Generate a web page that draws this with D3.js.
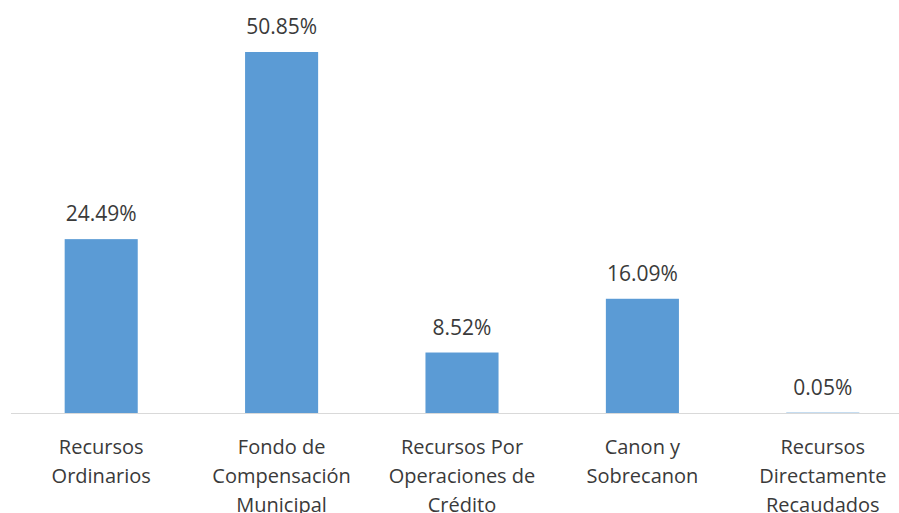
<!DOCTYPE html>
<html>
<head>
<meta charset="utf-8">
<script src="https://cdn.jsdelivr.net/npm/d3@7"></script>
<style>
  body { margin: 0; background: #fff; }
  text { font-family: "Open Sans", sans-serif; fill: #3a3a3a; }
</style>
</head>
<body>
<div id="chart"></div>
<script>
var categories = [
  ["Recursos", "Ordinarios"],
  ["Fondo de", "Compensación", "Municipal"],
  ["Recursos Por", "Operaciones de", "Crédito"],
  ["Canon y", "Sobrecanon"],
  ["Recursos", "Directamente", "Recaudados"]
];
var values = [24.49, 50.85, 8.52, 16.09, 0.05];

var width = 899, height = 513;
var baseline = 413;

var svg = d3.select("#chart").append("svg")
  .attr("width", width)
  .attr("height", height);

var x = d3.scaleBand()
  .domain(d3.range(categories.length))
  .range([11, 913])
  .paddingInner(0.595)
  .paddingOuter(0.2975);

var y = d3.scaleLinear()
  .domain([0, 50.85])
  .range([baseline, 52]);

svg.selectAll(".bar")
  .data(values)
  .enter().append("rect")
  .attr("class", "bar")
  .attr("x", (d, i) => x(i))
  .attr("y", d => y(d))
  .attr("width", x.bandwidth())
  .attr("height", d => baseline - y(d))
  .style("fill", "#5B9BD5");

// axis line
svg.append("line")
  .attr("x1", 11).attr("x2", width)
  .attr("y1", baseline + 0.5).attr("y2", baseline + 0.5)
  .style("stroke", "#d9d9d9")
  .style("stroke-width", 1);

svg.selectAll(".val")
  .data(values)
  .enter().append("text")
  .attr("class", "val")
  .attr("x", (d, i) => x(i) + x.bandwidth() / 2)
  .attr("y", d => y(d) - 18)
  .attr("text-anchor", "middle")
  .style("font-size", "21px")
  .text(d => d.toFixed(2) + "%");

var labels = svg.selectAll(".cat")
  .data(categories)
  .enter().append("text")
  .attr("class", "cat")
  .attr("text-anchor", "middle")
  .style("font-size", "20px");

labels.selectAll("tspan")
  .data((d, i) => d.map(t => ({t: t, i: i})))
  .enter().append("tspan")
  .attr("x", d => x(d.i) + x.bandwidth() / 2)
  .attr("y", (d, j) => 454 + j * 29)
  .text(d => d.t);
</script>
</body>
</html>
